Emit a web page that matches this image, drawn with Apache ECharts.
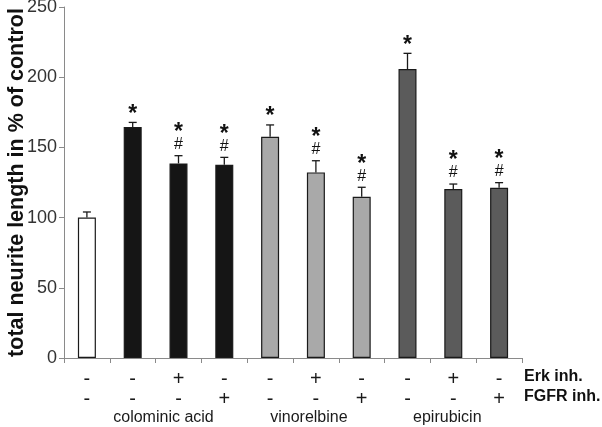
<!DOCTYPE html>
<html>
<head>
<meta charset="utf-8">
<script src="https://cdn.jsdelivr.net/npm/echarts@6/dist/echarts.min.js"></script>
<style>html,body{margin:0;padding:0;background:#fff}#c{width:602px;height:427px}</style>
</head>
<body>
<div id="c"></div>
<script>
const categories = ['c1','c2','c3','c4','c5','c6','c7','c8','c9','c10'];
const erkRow  = ['-','-','+','-','-','+','-','-','+','-'];
const fgfrRow = ['-','-','-','+','-','-','+','-','-','+'];
const groupNames = ['', '', 'colominic acid', '', '', 'vinorelbine', '', '', 'epirubicin', ''];
const values = [100, 164.5, 138.6, 137.6, 157.6, 132.2, 114.9, 205.8, 120.4, 121.3];
const errors = [4, 3.3, 5.5, 5.3, 8.4, 8.3, 6.7, 11.2, 3.5, 3.6];
const marks  = ['', '*', '*#', '*#', '*', '*#', '*#', '*', '*#', '*#'];
const groupOf = [0, 1, 1, 1, 2, 2, 2, 3, 3, 3];
const yTicks = [0, 50, 100, 150, 200, 250];
const rowNames = ['Erk inh.', 'FGFR inh.'];

const fills = ['#ffffff', '#151515', '#a9a9a9', '#5b5b5b'];
const FONT = 'Liberation Sans, Arial, sans-serif';

const chart = echarts.init(document.getElementById('c'), null, {renderer: 'canvas'});

const option = {
  animation: false,
  backgroundColor: '#fff',
  grid: {left: 64, right: 80, top: 7, bottom: 69, outerBoundsMode: 'none', containLabel: false},
  xAxis: [{
    type: 'category',
    data: categories,
    axisLine: {lineStyle: {color: '#8a8a8a', width: 1}},
    axisTick: {show: true, interval: 0, length: 5, lineStyle: {color: '#8a8a8a'}},
    axisLabel: {
      interval: 0, margin: 11,
      formatter: (v, i) => erkRow[i] + '\n' + fgfrRow[i],
      fontFamily: FONT, fontSize: 20, color: '#1a1a1a', lineHeight: 20
    }
  }, {
    type: 'category',
    data: groupNames,
    position: 'bottom',
    axisLine: {show: false},
    axisTick: {show: false},
    axisLabel: {
      interval: 0, margin: 52,
      fontFamily: FONT, fontSize: 16, color: '#1a1a1a',
      formatter: (v, i) => v ? '{g' + i + '|' + v + '}' : '',
      rich: {
        g2: {fontFamily: FONT, fontSize: 16, color: '#1a1a1a', padding: [0, 30, 0, 0]},
        g5: {fontFamily: FONT, fontSize: 16, color: '#1a1a1a', padding: [0, 14, 0, 0]},
        g8: {fontFamily: FONT, fontSize: 16, color: '#1a1a1a', padding: [0, 12, 0, 0]}
      }
    }
  }],
  yAxis: {
    type: 'value',
    min: 0, max: 250, interval: 50,
    name: 'total neurite length in % of control',
    nameLocation: 'middle',
    nameGap: 36,
    nameMoveOverlap: false,
    nameTextStyle: {fontFamily: FONT, fontSize: 21.5, fontWeight: 'bold', color: '#111'},
    axisLine: {show: true, lineStyle: {color: '#8a8a8a'}},
    axisTick: {show: true, length: 5, lineStyle: {color: '#8a8a8a'}},
    axisLabel: {fontFamily: FONT, fontSize: 18, color: '#333', margin: 7,
      formatter: v => yTicks.includes(v) ? String(v) : ''},
    splitLine: {show: false}
  },
  series: [{
    type: 'bar',
    barWidth: 18,
    data: values.map((v, i) => ({
      value: v,
      itemStyle: {color: fills[groupOf[i]], borderColor: '#1a1a1a', borderWidth: 1.2}
    }))
  }, {
    type: 'custom',
    data: values.map((v, i) => [i, v, errors[i]]),
    renderItem: function (params, api) {
      const i = api.value(0), v = api.value(1), e = api.value(2);
      const m = marks[params.dataIndex];
      const top = api.coord([i, v]);
      const cap = api.coord([i, v + e]);
      const hw = 4;
      const children = [
        {type: 'line', shape: {x1: top[0], y1: top[1], x2: cap[0], y2: cap[1]}, style: {stroke: '#1a1a1a', lineWidth: 1.3}},
        {type: 'line', shape: {x1: cap[0] - hw, y1: cap[1], x2: cap[0] + hw, y2: cap[1]}, style: {stroke: '#1a1a1a', lineWidth: 1.3}}
      ];
      let starY = cap[1] - 8;
      if (m.indexOf('#') >= 0) {
        children.push({type: 'text', style: {text: '#', x: cap[0], y: cap[1] - 11, align: 'center', verticalAlign: 'middle', font: '16px ' + FONT, fill: '#111'}});
        starY = cap[1] - 23;
      }
      if (m.indexOf('*') >= 0) {
        children.push({type: 'text', style: {text: '*', x: cap[0], y: starY, align: 'center', verticalAlign: 'middle', font: 'bold 23px ' + FONT, fill: '#111'}});
      }
      return {type: 'group', children: children};
    },
    z: 5
  }],
  graphic: [
    {type: 'text', left: 524, top: 369, style: {text: rowNames[0], font: 'bold 16px ' + FONT, fill: '#111'}},
    {type: 'text', left: 524, top: 389, style: {text: rowNames[1], font: 'bold 16px ' + FONT, fill: '#111'}}
  ]
};
chart.setOption(option);
</script>
</body>
</html>
